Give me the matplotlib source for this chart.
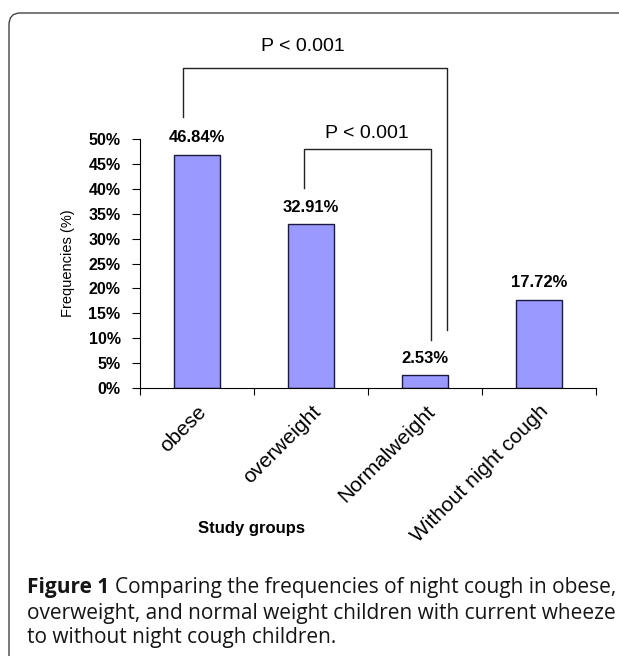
import matplotlib.pyplot as plt
from matplotlib.patches import FancyBboxPatch
from matplotlib.ticker import FixedLocator

# Data
groups = ['obese', 'overweight', 'Normalweight', 'Without night cough']
freqs = [46.84, 32.91, 2.53, 17.72]
pvals = ['P < 0.001', 'P < 0.001']

fig = plt.figure(figsize=(6.19, 6.56), dpi=100)
ax = fig.add_axes([140/619, 1 - 388/656, 456/619, 249/656])

x = range(len(groups))
ax.bar(x, freqs, width=0.41, color='#9999ff', edgecolor='#1a1a40', linewidth=1.0, zorder=2)

for i, v in enumerate(freqs):
    ax.text(i, v + 3.4, '%.2f%%' % v, ha='center', va='center',
            fontsize=12, fontweight='bold', family='Liberation Sans')

ax.set_xlim(-0.5, 3.5)
ax.set_ylim(0, 50)
ax.set_yticks(range(0, 51, 5))
ax.set_yticklabels(['%d%%' % t for t in range(0, 51, 5)], fontsize=11.5,
                   fontweight='bold', family='Liberation Sans')

# category labels at bar centres, tick marks between categories
ax.set_xticks(list(x))
ax.set_xticklabels(groups, rotation=45, ha='right', rotation_mode='anchor',
                   fontsize=15, family='Liberation Sans')
ax.tick_params(axis='x', which='major', length=0, pad=10)
ax.xaxis.set_minor_locator(FixedLocator([-0.5, 0.5, 1.5, 2.5, 3.5]))
ax.tick_params(axis='x', which='minor', length=5, width=0.8, direction='out')
ax.tick_params(axis='y', length=6, width=0.8, direction='out', pad=8)

for s in ['top', 'right']:
    ax.spines[s].set_visible(False)
for s in ['left', 'bottom']:
    ax.spines[s].set_linewidth(0.8)

ax.set_ylabel('Frequencies (%)', fontsize=10.5, family='Liberation Sans', labelpad=10)
fig.text(252/619, 1 - 528/656, 'Study groups', ha='center', va='center',
         fontsize=12, fontweight='bold', family='Liberation Sans')

# significance brackets
lc = '#222222'
ax.plot([-0.12, -0.12, 2.19, 2.19], [54.4, 64.3, 64.3, 11.6], color=lc, lw=1.0, clip_on=False)
ax.text(0.93, 68.5, pvals[0], ha='center', va='center', fontsize=14, family='Liberation Sans')
ax.plot([0.94, 0.94, 2.05, 2.05], [40.2, 48.0, 48.0, 9.6], color=lc, lw=1.0, clip_on=False)
ax.text(1.49, 51.2, pvals[1], ha='center', va='center', fontsize=14, family='Liberation Sans')

# caption frame (rounded top-left corner, open to the right and bottom)
frame = FancyBboxPatch((9/619, -0.05), 1.1, 1 - 13/656 + 0.05,
                       boxstyle='round,pad=0,rounding_size=0.018',
                       transform=fig.transFigure, fill=False,
                       edgecolor='#444444', linewidth=1.0, clip_on=False)
fig.patches.append(frame)

cap_font = 'Open Sans'
cap_size = 15
cap_col = '#151515'
x0 = 27/619
t1 = fig.text(x0, 1 - 587/656, 'Figure 1 ', ha='left', va='center', fontsize=cap_size,
              fontweight='bold', color=cap_col, family=cap_font)
fig.canvas.draw()
bb = t1.get_window_extent()
x1 = bb.x1 / fig.bbox.width
fig.text(x1, 1 - 587/656, 'Comparing the frequencies of night cough in obese,',
         ha='left', va='center', fontsize=cap_size, color=cap_col, family=cap_font)
fig.text(x0, 1 - 613/656, 'overweight, and normal weight children with current wheeze',
         ha='left', va='center', fontsize=cap_size, color=cap_col, family=cap_font)
fig.text(x0, 1 - 638/656, 'to without night cough children.',
         ha='left', va='center', fontsize=cap_size, color=cap_col, family=cap_font)

fig.savefig('out.png', dpi=100)
